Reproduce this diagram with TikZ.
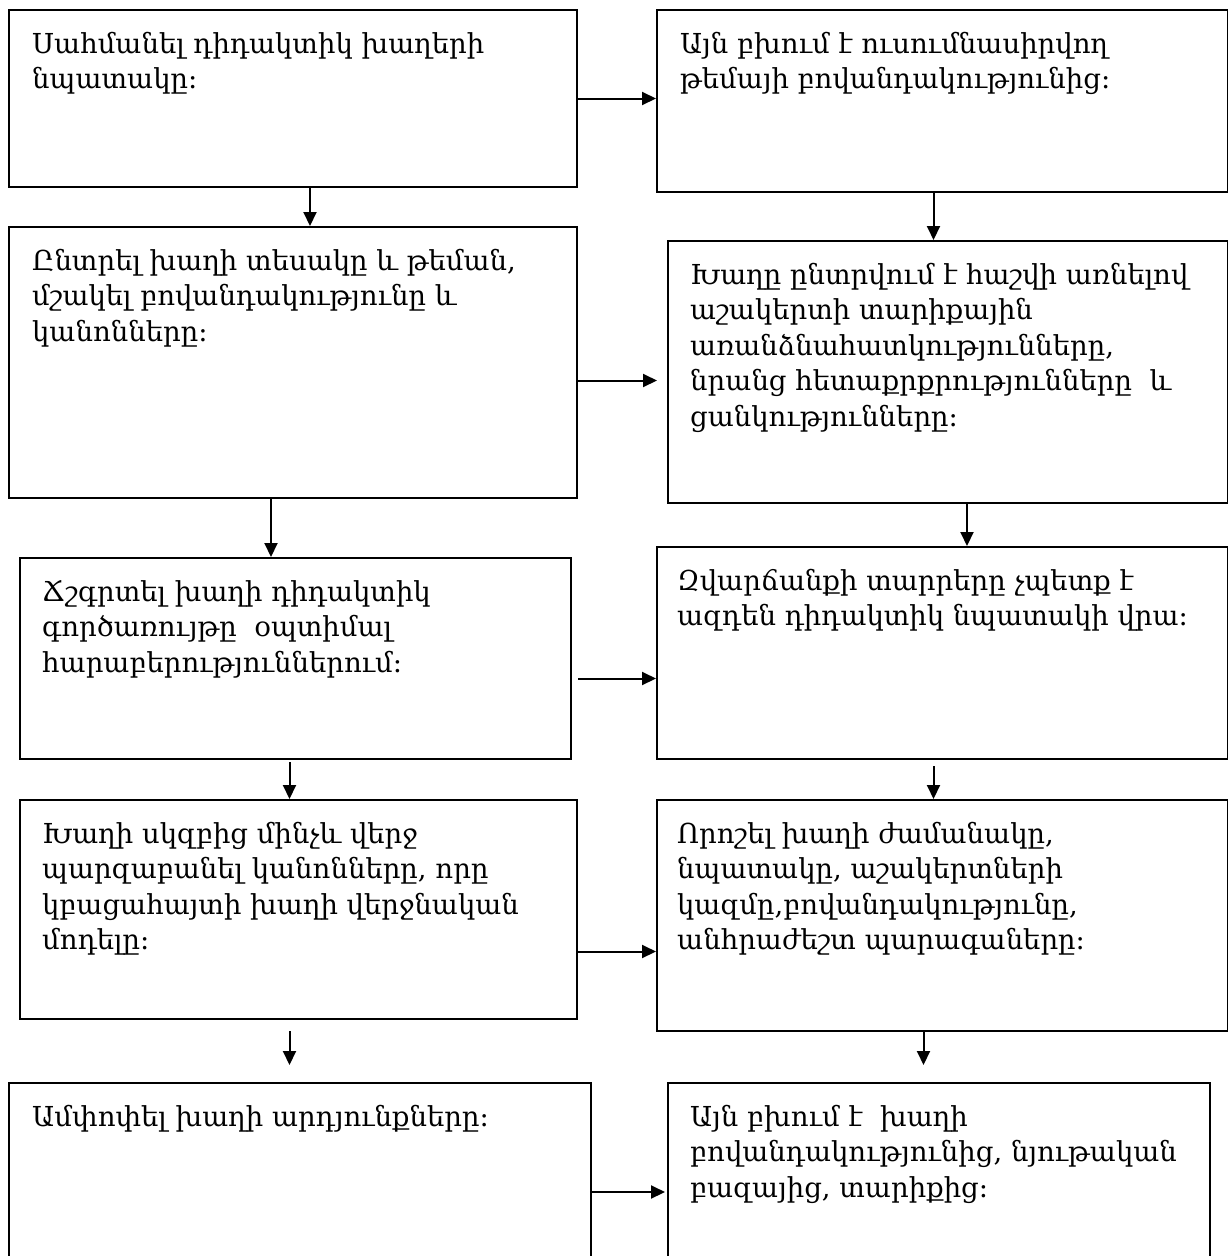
\documentclass[tikz,border=0pt]{standalone}
\usepackage{fontspec}
\setmainfont{DejaVu Serif}
\usetikzlibrary{arrows.meta,positioning}

\begin{document}
\begin{tikzpicture}[x=1pt, y=-1pt,
  box/.style={draw, line width=2pt, anchor=north west, inner sep=0pt},
  txt/.style={anchor=north west, align=left, inner sep=0pt, font=\fontsize{27.5}{35.5}\selectfont},
  arr/.style={-{Triangle[length=14pt, width=13pt]}, line width=2pt}]
  \useasboundingbox (0,0) rectangle (1228,1256);
  \clip (0,0) rectangle (1228,1256);

  % left column
  \node[box, minimum width=568pt, minimum height=177pt] (L1) at (8,9) {};
  \node[box, minimum width=568pt, minimum height=271pt] (L2) at (8,226) {};
  \node[box, minimum width=551pt, minimum height=201pt] (L3) at (19,557) {};
  \node[box, minimum width=557pt, minimum height=219pt] (L4) at (19,799) {};
  \node[box, minimum width=582pt, minimum height=300pt] (L5) at (8,1082) {};

  % right column
  \node[box, minimum width=571pt, minimum height=182pt] (R1) at (656,9) {};
  \node[box, minimum width=560pt, minimum height=262pt] (R2) at (667,240) {};
  \node[box, minimum width=571pt, minimum height=212pt] (R3) at (656,546) {};
  \node[box, minimum width=571pt, minimum height=231pt] (R4) at (656,799) {};
  \node[box, minimum width=542pt, minimum height=300pt] (R5) at (667,1082) {};

  % texts
  \node[txt] (tL1) at ([xshift=24pt, yshift=-23pt]L1.north west) {Սահմանել դիդակտիկ խաղերի\\նպատակը։};
  \node[txt] (tL2) at ([xshift=24pt, yshift=-23pt]L2.north west) {Ընտրել խաղի տեսակը և թեման,\\մշակել բովանդակությունը և\\կանոնները։};
  \node[txt] (tL3) at ([xshift=23pt, yshift=-23pt]L3.north west) {Ճշգրտել խաղի դիդակտիկ\\գործառույթը\ \ օպտիմալ\\հարաբերություններում։};
  \node[txt] (tL4) at ([xshift=23pt, yshift=-23pt]L4.north west) {Խաղի սկզբից մինչև վերջ\\պարզաբանել կանոնները, որը\\կբացահայտի խաղի վերջնական\\մոդելը։};
  \node[txt] (tL5) at ([xshift=24pt, yshift=-23pt]L5.north west) {Ամփոփել խաղի արդյունքները։};

  \node[txt] (tR1) at ([xshift=24pt, yshift=-23pt]R1.north west) {Այն բխում է ուսումնասիրվող\\թեմայի բովանդակությունից։};
  \node[txt] (tR2) at ([xshift=23pt, yshift=-23pt]R2.north west) {Խաղը ընտրվում է հաշվի առնելով\\աշակերտի տարիքային\\առանձնահատկությունները,\\նրանց հետաքրքրությունները\ \ և\\ցանկությունները։};
  \node[txt] (tR3) at ([xshift=21pt, yshift=-23pt]R3.north west) {Զվարճանքի տարրերը չպետք է\\ազդեն դիդակտիկ նպատակի վրա։};
  \node[txt] (tR4) at ([xshift=21pt, yshift=-23pt]R4.north west) {Որոշել խաղի ժամանակը,\\նպատակը, աշակերտների\\կազմը,բովանդակությունը,\\անհրաժեշտ պարագաները։};
  \node[txt] (tR5) at ([xshift=23pt, yshift=-23pt]R5.north west) {Այն բխում է\ \ խաղի\\բովանդակությունից, նյութական\\բազայից, տարիքից։};

  % across
  \draw[arr] (L1.east) -- (L1.east -| R1.west);
  \draw[arr, shorten >=10pt] ([yshift=-18pt]L2.east) -- ([yshift=-18pt]L2.east -| R2.west);
  \draw[arr, shorten <=6pt] ([yshift=-20pt]L3.east) -- ([yshift=-20pt]L3.east -| R3.west);
  \draw[arr] ([yshift=-42pt]L4.east) -- ([yshift=-42pt]L4.east -| R4.west);
  \draw[arr, shorten >=2pt] ([yshift=-110pt]L5.north east) -- ([yshift=-110pt]L5.north east -| R5.west);

  % down
  \draw[arr] ([xshift=17pt]L1.south) -- ([xshift=17pt]L1.south |- L2.north);
  \draw[arr] ([xshift=-22pt]L2.south) -- ([xshift=-22pt]L2.south |- L3.north);
  \draw[arr, shorten <=2pt] ([xshift=-6pt]L3.south) -- ([xshift=-6pt]L3.south |- L4.north);
  \draw[arr, shorten <=11pt, shorten >=17pt] ([xshift=-9pt]L4.south) -- ([xshift=-9pt]L4.south |- L5.north);
  \draw[arr] ([xshift=-9pt]R1.south) -- ([xshift=-9pt]R1.south |- R2.north);
  \draw[arr] ([xshift=19pt]R2.south) -- ([xshift=19pt]R2.south |- R3.north);
  \draw[arr, shorten <=6pt] ([xshift=-9pt]R3.south) -- ([xshift=-9pt]R3.south |- R4.north);
  \draw[arr, shorten >=17pt] ([xshift=-19pt]R4.south) -- ([xshift=-19pt]R4.south |- R5.north);
\end{tikzpicture}
\end{document}
